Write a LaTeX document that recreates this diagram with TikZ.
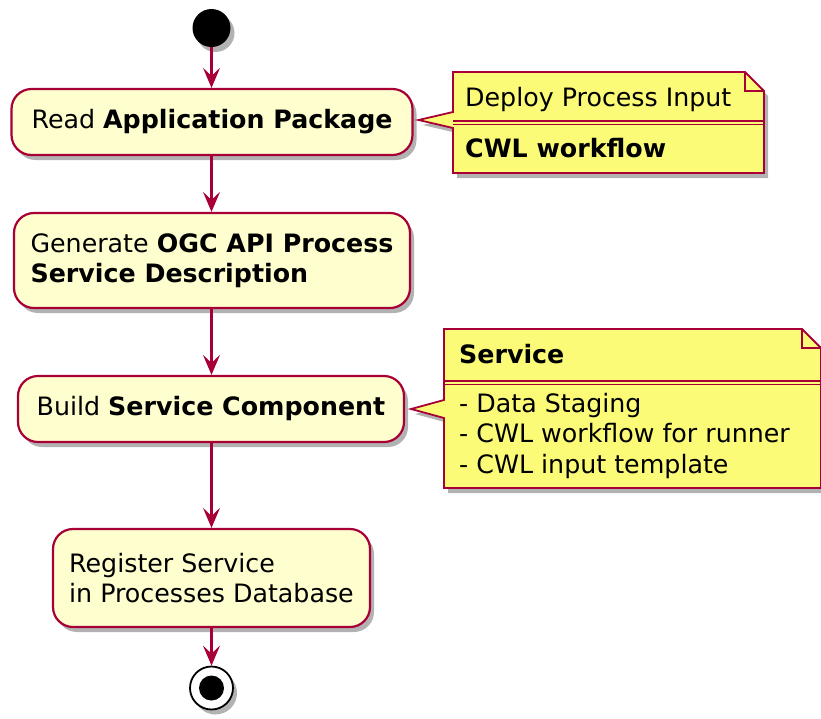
\documentclass[tikz,border=0pt]{standalone}
\usepackage{fontspec}
\setmainfont{DejaVu Sans}
\usetikzlibrary{arrows.meta,shadows}
\definecolor{umlred}{HTML}{A80036}
\definecolor{actfill}{HTML}{FEFECE}
\definecolor{notefill}{HTML}{FBFB77}

\begin{document}
\begin{tikzpicture}[x=1pt,y=-1pt,
  font=\fontsize{25.3}{30.5}\selectfont,
  umlshadow/.style={drop shadow={shadow xshift=4pt,shadow yshift=-5pt,opacity=0.3,fill=black}},
  act/.style={draw=umlred,fill=actfill,line width=2.2pt,rounded corners=20pt,
    inner sep=0pt,align=left,umlshadow},
  flow/.style={draw=umlred,line width=2.2pt,-{Stealth[length=20pt,width=17pt,inset=8pt]}},
  notebody/.style={draw=umlred,fill=notefill,line width=1.8pt,line join=miter,umlshadow},
  noteline/.style={draw=umlred,line width=1.8pt},
  notetext/.style={anchor=base west,inner sep=0pt}]

\useasboundingbox (0,0) rectangle (821,718);

% start and end markers
\node[circle,fill=black,minimum size=38pt,inner sep=0pt,umlshadow] (start) at (211.5,28) {};

% activities
\node[act,minimum width=401pt,minimum height=66pt] (read) at (212,122)
  {Read \textbf{Application Package}};
\node[act,minimum width=396pt,minimum height=95pt] (gen) at (212,260.5)
  {Generate \textbf{OGC API Process}\\\textbf{Service Description}};
\node[act,minimum width=386pt,minimum height=66pt] (build) at (211,409)
  {Build \textbf{Service Component}};
\node[act,minimum width=317pt,minimum height=98pt] (reg) at (211.5,578)
  {Register Service\\in Processes Database};

\node[circle,draw=black,line width=1.8pt,fill=white,minimum size=43pt,inner sep=0pt,umlshadow] (stop) at (211.5,688) {};
\fill[black] (stop.center) circle (12.5pt);

% control flow
\draw[flow] (start.south) -- (start.south |- read.north);
\draw[flow] (start.south |- read.south) -- (start.south |- gen.north);
\draw[flow] (start.south |- gen.south) -- (start.south |- build.north);
\draw[flow] (start.south |- build.south) -- (start.south |- reg.north);
\draw[flow] (start.south |- reg.south) -- (stop.north);

% note attached to the first activity
\coordinate (tipA) at ([xshift=5pt,yshift=2pt]read.east);
\path[notebody] (453,72) -- (745,72) -- (764,91) -- (764,173) -- (453,173)
  -- (453,128) -- (tipA) -- (453,112) -- cycle;
\draw[noteline] (745,72) -- (745,91) -- (764,91);
\draw[noteline] (453,121) -- (764,121);
\draw[noteline] (453,124.5) -- (764,124.5);
\node[notetext] (noteAhead) at (465,106) {Deploy Process Input};
\node[notetext] (noteAbody) at (465,157) {\textbf{CWL workflow}};

% note attached to the service component
\coordinate (tipB) at ([xshift=6pt]build.east);
\path[notebody] (444,329) -- (802,329) -- (821,348) -- (821,488) -- (444,488)
  -- (444,418) -- (tipB) -- (444,400) -- cycle;
\draw[noteline] (802,329) -- (802,348) -- (821,348);
\draw[noteline] (444,381) -- (821,381);
\draw[noteline] (444,384.5) -- (821,384.5);
\node[notetext] (noteBhead) at (459,363) {\textbf{Service}};
\node[notetext] (noteBa) at (459,412) {- Data Staging};
\node[notetext] (noteBb) at (459,442.5) {- CWL workflow for runner};
\node[notetext] (noteBc) at (459,473) {- CWL input template};
\end{tikzpicture}
\end{document}
